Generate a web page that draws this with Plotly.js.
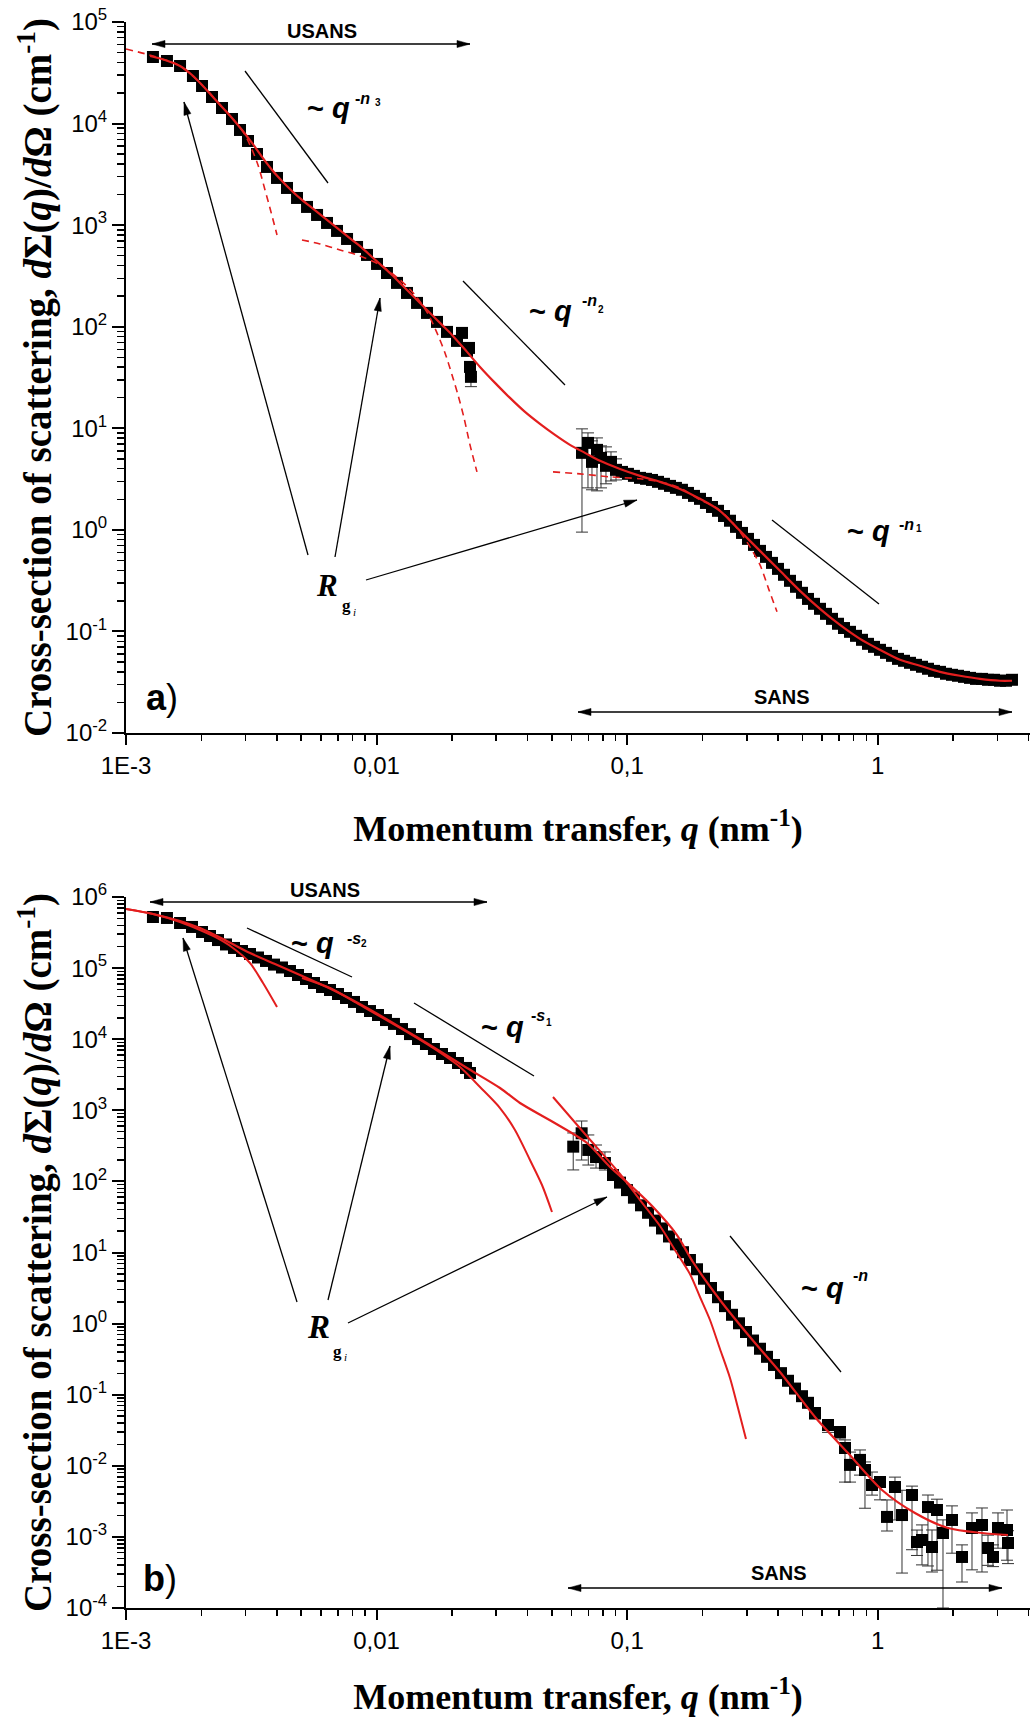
<!DOCTYPE html>
<html><head><meta charset="utf-8">
<script src="https://cdn.plot.ly/plotly-3.0.1.min.js"></script>
<style>html,body{margin:0;padding:0;background:#fff}</style>
</head><body>
<div id="chart" style="width:1030px;height:1719px"></div>
<script>
// ---------------- Panel a data ----------------
const qA_us = [0.001281,0.001457,0.001643,0.001850,0.002011,0.002204,0.002416,0.002649,0.002850,0.003068,0.003332,0.003653,0.004005,0.004390,0.004814,0.005277,0.005786,0.006342,0.006952,0.007622,0.008356,0.009156,0.01004,0.01100,0.01206,0.01322,0.01450,0.01589,0.01742,0.01910,0.02093,0.02295,0.02192,0.02337,0.02359];
const IA_us = [45250,41320,36880,29410,23450,18270,14240,11100,8650,6740,5020,3740,2915,2323,1852,1511,1260,1051,877,731,610,509,415,338,270,215,171.5,136.7,111.5,88.9,72.5,57.8,86.9,61.8,40.2];
const qA_usEnd = [0.02380];
const IA_usEnd = [32.1];
const IA_usEndMinus = [6.4];

const qA_se = [0.06600,0.06975,0.07235,0.07576,0.07861,0.08229,0.08617,0.09023];
const IA_se = [5.73,7.18,4.67,6.13,5.11,4.27,4.67,3.90];
const IA_sePlus = [4.14,1.83,2.85,1.91,1.6,2.29,1.19,1.1];
const IA_seMinus = [4.78,4.59,2.19,3.71,2.52,1.43,1.64,0.8];

const qA_sa = [0.09535,0.1007,0.1064,0.1125,0.1189,0.1256,0.1327,0.1402,0.1482,0.1565,0.1654,0.1748,0.1847,0.1952,0.2062,0.2180,0.2303,0.2434,0.2572,0.2718,0.2872,0.3034,0.3206,0.3388,0.3580,0.3783,0.3998,0.4224,0.4464,0.4717,0.4984,0.5267,0.5565,0.5881,0.6214,0.6567,0.6939,0.7332,0.7748,0.8187,0.8651,0.9141,0.9656,1.0205,1.0783,1.1394,1.2040,1.2721,1.3443,1.4204,1.5010,1.5860,1.6759,1.7708,1.8712,1.9775,2.0893,2.2080,2.3330,2.4653,2.6049,2.7526,2.9087,3.0735,3.2480,3.4318];
const IA_sa = [3.72,3.56,3.40,3.25,3.18,3.10,2.97,2.84,2.71,2.59,2.48,2.31,2.16,2.02,1.84,1.68,1.54,1.37,1.23,1.07,0.933,0.815,0.711,0.621,0.542,0.473,0.413,0.361,0.315,0.275,0.240,0.209,0.187,0.167,0.149,0.133,0.119,0.108,0.0991,0.0905,0.0827,0.0755,0.0705,0.0659,0.0615,0.0575,0.0537,0.0514,0.0491,0.0469,0.0449,0.0429,0.0409,0.0400,0.0383,0.0374,0.0366,0.0357,0.0349,0.0341,0.0341,0.0334,0.0334,0.0327,0.0327,0.0334];

const qA_fit = [0.001247,0.001430,0.001643,0.001834,0.002011,0.002204,0.002416,0.002649,0.002903,0.003183,0.003489,0.003825,0.004193,0.004596,0.005039,0.005525,0.006055,0.006637,0.007276,0.007977,0.008744,0.009585,0.01051,0.01152,0.01263,0.01385,0.01518,0.01664,0.01824,0.02000,0.02295,0.02586,0.02969,0.03406,0.03910,0.04487,0.05151,0.05910,0.06785,0.07788,0.09361,0.1125,0.1352,0.1624,0.1952,0.2346,0.2819,0.3388,0.4071,0.4893,0.5881,0.7066,0.8492,1.0205,1.2264,1.4736,1.7708,2.1281,2.5575,3.0735,3.4318];
const IA_fit = [46290,42270,36880,30080,23990,18690,14570,11350,8650,6444,4692,3494,2723,2171,1770,1477,1232,1027,857,715,597,486,397,323,258,205.6,163.9,130.6,104.2,83.1,56.5,40.2,28.0,19.92,14.50,11.05,8.61,6.87,5.73,4.78,3.98,3.40,2.97,2.53,2.02,1.54,0.978,0.621,0.395,0.251,0.167,0.116,0.0846,0.0659,0.0525,0.0459,0.0400,0.0366,0.0341,0.0327,0.0327];

const qA_g1 = [0.001,0.001281,0.001643,0.002011,0.002416,0.002903,0.003125,0.003363,0.003587,0.003790,0.004005];
const IA_g1 = [54240,46290,36880,23990,14570,8650,6157,3913,2221,1349,801];
const qA_g2 = [0.005039,0.005942,0.007145,0.008588,0.01032,0.01240,0.01423,0.01604,0.01742,0.01875,0.02000,0.02113,0.02233,0.02359,0.02515];
const IA_g2 = [715,653,570,497.6,405.9,288.8,205.6,133.7,86.9,55.2,33.5,21.3,12.66,6.87,3.72];
const qA_g3 = [0.05057,0.06481,0.08539,0.1125,0.1352,0.1624,0.1952,0.2240,0.2525,0.2819,0.3090,0.3388,0.3680,0.3961];
const IA_g3 = [3.72,3.56,3.325,3.18,2.97,2.59,1.974,1.68,1.313,0.956,0.680,0.452,0.2566,0.156];

// ---------------- Panel b data ----------------
const qB_us = [0.001281,0.001457,0.001643,0.001834,0.002011,0.002164,0.002329,0.002506,0.002698,0.002903,0.003125,0.003363,0.003620,0.003896,0.004193,0.004512,0.004858,0.005228,0.005626,0.006055,0.006516,0.007015,0.007550,0.008125,0.008744,0.009412,0.01013,0.01090,0.01173,0.01263,0.01359,0.01463,0.01574,0.01694,0.01824,0.01963,0.02113,0.02274,0.02359];
const IB_us = [5.23e5,5.07e5,4.31e5,3.79e5,3.22e5,2.83e5,2.48e5,2.15e5,1.92e5,1.74e5,1.58e5,1.41e5,1.26e5,1.12e5,1.02e5,9.10e4,8.00e4,7.03e4,6.17e4,5.42e4,4.92e4,4.32e4,3.80e4,3.34e4,2.84e4,2.49e4,2.19e4,1.86e4,1.64e4,1.39e4,1.18e4,1.006e4,8560,7280,6190,5440,4630,3940,3350];

const qB_se = [0.0609,0.0658,0.06995,0.0751,0.0815];
const IB_se = [308,475,277,220,181.5];
const IB_sePlus = [172,232,173,105,78];
const IB_seMinus = [163,275,107,66,37];

const qB_sa = [0.08776,0.09361,0.09982,0.1064,0.1135,0.1211,0.1291,0.1377,0.1468,0.1565,0.1670,0.1780,0.1899,0.2025,0.2160,0.2303,0.2456,0.2619,0.2793,0.2979,0.3177,0.3388,0.3613,0.3853,0.4109,0.4383,0.4674,0.4984,0.5267];
const IB_sa = [123.0,96.2,75.4,59.0,46.1,36.2,28.1,21.8,16.8,13.0,10.1,7.85,5.81,4.28,3.17,2.35,1.76,1.33,1.01,0.762,0.578,0.443,0.341,0.262,0.201,0.157,0.122,0.0953,0.0769];

const qB_tail = [0.5617,0.6329,0.7066,0.7399,0.7748,0.8492,0.8890,0.9482,1.0205,1.0882,1.1711,1.2491,1.3694,1.4336,1.5010,1.5860,1.6455,1.7226,1.8205,1.9775,2.1677,2.3763,2.6049,2.7526,2.8821,3.0175,3.2780,3.3083];
const IB_tail = [0.0553,0.0375,0.0299,0.0178,0.0103,0.0121,0.00873,0.00537,0.00592,0.00191,0.00503,0.00203,0.00388,0.000848,0.000904,0.00263,0.000721,0.00239,0.001135,0.00173,0.000522,0.001334,0.001471,0.000698,0.000522,0.001334,0.00125,0.000821];
const IB_tailPlus = [0.004,0.003,0.003,0.0053,0.0053,0.0046,0.0026,0.0028,0.0011,0.0014,0.0019,0.0025,0.0013,0.0004,0.00057,0.00125,0.00053,0.0010,0.0006,0.0010,0.00025,0.00084,0.00108,0.00036,0.00025,0.00084,0.00114,0.0004];
const IB_tailMinus = [0.01,0.008,0.006,0.0119,0.0044,0.0047,0.0062,0.0015,0.0026,0.0007,0.0033,0.00172,0.00322,0.0003,0.0005,0.00224,0.0004,0.00205,0.001035,0.00114,0.00029,0.00099,0.00115,0.0003,0.00014,0.00064,0.00078,0.0004];

const qB_fit = [0.001,0.001281,0.001643,0.001974,0.002484,0.003125,0.003932,0.004947,0.006699,0.009156,0.01240,0.01680,0.02295,0.03108,0.03734,0.05057,0.06911,0.08539,0.1026,0.1268,0.1580,0.1830,0.2346,0.3090,0.4071,0.5617,0.7607,1.0394,1.4073,1.9055,2.6049,3.3083];
const IB_fit = [6.78e5,5.77e5,4.60e5,3.66e5,2.48e5,1.63e5,1.14e5,8.00e4,4.92e4,2.75e4,1.48e4,7770,3940,2058,1267,684.6,346.8,159.4,89.0,43.6,17.6,7.35,2.15,0.648,0.2086,0.0486,0.01514,0.00457,0.00217,0.001334,0.001135,0.001063];

const qB_g1 = [0.001,0.001281,0.001643,0.001974,0.002266,0.002673,0.003125,0.003522,0.004005];
const IB_g1 = [6.78e5,5.77e5,4.45e5,3.43e5,2.74e5,1.92e5,1.18e5,6.17e4,2.84e4];
const qB_g2 = [0.005039,0.006516,0.008588,0.01240,0.01680,0.02152,0.02586,0.03108,0.03566,0.04093,0.04571,0.05011];
const IB_g2 = [7.26e4,5.25e4,3.03e4,1.44e4,7520,4064,2127,1077,528,200,89.0,37.1];
const qB_g3 = [0.05057,0.06785,0.09361,0.1125,0.1352,0.1551,0.1780,0.1952,0.2140,0.2346,0.2572,0.2768,0.2979];
const IB_g3 = [1539,464,127.1,54.7,23.6,10.85,4.98,2.366,1.124,0.439,0.1717,0.0650,0.0238];

// ---------------- Tick labels ----------------
const xTickVals = [0.001,0.01,0.1,1];
const xTickText = ['1E-3','0,01','0,1','1'];
const yTickValsA = [1e-2,1e-1,1,10,100,1e3,1e4,1e5];
const yTickTextA = ['10<sup>-2</sup>','10<sup>-1</sup>','10<sup>0</sup>','10<sup>1</sup>','10<sup>2</sup>','10<sup>3</sup>','10<sup>4</sup>','10<sup>5</sup>'];
const yTickValsB = [1e-4,1e-3,1e-2,1e-1,1,10,100,1e3,1e4,1e5,1e6];
const yTickTextB = ['10<sup>-4</sup>','10<sup>-3</sup>','10<sup>-2</sup>','10<sup>-1</sup>','10<sup>0</sup>','10<sup>1</sup>','10<sup>2</sup>','10<sup>3</sup>','10<sup>4</sup>','10<sup>5</sup>','10<sup>6</sup>'];

// ---------------- Layout helpers ----------------
const W = 1030, H = 1719;
const PX = v => v / W, PY = v => 1 - v / H;
const RED = '#e31e1e';
const SANSF = 'Liberation Sans, Arial, sans-serif';
const SERIF = 'Liberation Serif, Times New Roman, serif';

function minorVals(lo, hi) {
  const v = [];
  for (let e = lo; e <= hi; e++) for (let d = 2; d <= 9; d++) v.push(d * Math.pow(10, e));
  return v;
}

const tickFont = {family: SANSF, size: 24, color: '#000'};
const xTitle = '<b>Momentum transfer, <i>q</i> (nm<sup>-1</sup>)</b>';
const yTitle = '<b>Cross-section of scattering, <i>d</i>Σ(<i>q</i>)/<i>d</i>Ω (cm<sup>-1</sup>)</b>';

function xAxis(anchor, standoff) {
  return {
    type: 'log', domain: [PX(126), 1], range: [-3, 0.6074], anchor: anchor,
    showline: true, linecolor: '#000', linewidth: 2, mirror: false,
    ticks: 'outside', ticklen: 10, tickwidth: 2, tickcolor: '#000',
    tickmode: 'array', tickvals: xTickVals, ticktext: xTickText, tickfont: tickFont,
    minor: {tickmode: 'array', tickvals: minorVals(-3, 0), ticks: 'outside', ticklen: 6, tickwidth: 1.5, tickcolor: '#000', showgrid: false},
    showgrid: false, zeroline: false, automargin: false,
    title: {text: xTitle, font: {family: SERIF, size: 36, color: '#000'}, standoff: standoff}
  };
}
function yAxis(anchor, dom, rng, vals, text, lo, hi) {
  return {
    type: 'log', domain: dom, range: rng, anchor: anchor,
    showline: true, linecolor: '#000', linewidth: 2, mirror: false,
    ticks: 'outside', ticklen: 12, tickwidth: 2, tickcolor: '#000',
    tickmode: 'array', tickvals: vals, ticktext: text, tickfont: tickFont,
    minor: {tickmode: 'array', tickvals: minorVals(lo, hi), ticks: 'outside', ticklen: 7, tickwidth: 1.5, tickcolor: '#000', showgrid: false},
    showgrid: false, zeroline: false, automargin: false,
    title: {text: yTitle, font: {family: SERIF, size: 39, color: '#000'}, standoff: 2}
  };
}

function sq(x, y, xa, ya, plus, minus) {
  const t = {x: x, y: y, xaxis: xa, yaxis: ya, type: 'scatter', mode: 'markers',
    marker: {symbol: 'square', size: 12, color: '#000', line: {width: 0}}, hoverinfo: 'skip'};
  if (minus) {
    t.error_y = {type: 'data', symmetric: false, array: plus, arrayminus: minus,
      color: '#333', thickness: 1, width: 6};
  }
  return t;
}
function ln(x, y, xa, ya, width, dash) {
  return {x: x, y: y, xaxis: xa, yaxis: ya, type: 'scatter', mode: 'lines',
    line: {color: RED, width: width, dash: dash || 'solid', shape: 'spline', smoothing: 0.8}, hoverinfo: 'skip'};
}

const data = [
  sq(qA_us, IA_us, 'x', 'y'),
  sq(qA_usEnd, IA_usEnd, 'x', 'y', [0], IA_usEndMinus),
  sq(qA_se, IA_se, 'x', 'y', IA_sePlus, IA_seMinus),
  sq(qA_sa, IA_sa, 'x', 'y'),
  ln(qA_fit, IA_fit, 'x', 'y', 2.2),
  ln(qA_g1, IA_g1, 'x', 'y', 1.6, '7px,5px'),
  ln(qA_g2, IA_g2, 'x', 'y', 1.6, '7px,5px'),
  ln(qA_g3, IA_g3, 'x', 'y', 1.6, '7px,5px'),

  sq(qB_us, IB_us, 'x2', 'y2'),
  sq(qB_se, IB_se, 'x2', 'y2', IB_sePlus, IB_seMinus),
  sq(qB_sa, IB_sa, 'x2', 'y2'),
  sq(qB_tail, IB_tail, 'x2', 'y2', IB_tailPlus, IB_tailMinus),
  ln(qB_fit, IB_fit, 'x2', 'y2', 2.2),
  ln(qB_g1, IB_g1, 'x2', 'y2', 2),
  ln(qB_g2, IB_g2, 'x2', 'y2', 2),
  ln(qB_g3, IB_g3, 'x2', 'y2', 2)
];

function txt(x, y, text, size, family) {
  return {xref: 'paper', yref: 'paper', x: PX(x), y: PY(y), text: text, showarrow: false,
    xanchor: 'center', yanchor: 'middle', font: {family: family || SANSF, size: size, color: '#000'}};
}
function seg(x0, y0, x1, y1, w) {
  return {type: 'line', xref: 'paper', yref: 'paper', x0: PX(x0), y0: PY(y0), x1: PX(x1), y1: PY(y1),
    line: {color: '#000', width: w || 1.3}};
}
// arrow drawn as a thin line plus slim filled triangular head(s)
function head(hx, hy, tx, ty) {
  const L = 13, hw = 3.6;
  const dx = hx - tx, dy = hy - ty, d = Math.hypot(dx, dy);
  const ux = dx / d, uy = dy / d, nx = -uy, ny = ux;
  const bx = hx - ux * L, by = hy - uy * L;
  const p = (x, y) => PX(x) + ',' + PY(y);
  return {type: 'path', xref: 'paper', yref: 'paper',
    path: 'M' + p(hx, hy) + 'L' + p(bx + nx * hw, by + ny * hw) + 'L' + p(bx - nx * hw, by - ny * hw) + 'Z',
    fillcolor: '#000', line: {color: '#000', width: 0.5}};
}
function arrow(hx, hy, tx, ty, both) {
  const out = [seg(hx, hy, tx, ty, 1.3), head(hx, hy, tx, ty)];
  if (both) out.push(head(tx, ty, hx, hy));
  return out;
}

const annotations = [
  // panel a
  txt(322, 31, '<b>USANS</b>', 20),
  txt(782, 697, '<b>SANS</b>', 20),
  txt(328, 108, '<b>~ <i>q</i></b>', 29), txt(362, 98, '<b>-<i>n</i></b>', 16), txt(378, 103, '<b>3</b>', 10),
  txt(550, 311, '<b>~ <i>q</i></b>', 29), txt(589, 300, '<b>-<i>n</i></b>', 16), txt(601, 309, '<b>2</b>', 10),
  txt(868, 531, '<b>~ <i>q</i></b>', 29), txt(906, 524, '<b>-<i>n</i></b>', 16), txt(919, 529, '<b>1</b>', 10),
  txt(327, 585, '<b><i>R</i></b>', 31, SERIF), txt(346, 606, '<b>g</b>', 17, SERIF), txt(354, 612, '<i>i</i>', 11, SERIF),
  txt(162, 697, '<b>a</b>)', 36),
  // panel b
  txt(325, 890, '<b>USANS</b>', 20),
  txt(779, 1573, '<b>SANS</b>', 20),
  txt(312, 943, '<b>~ <i>q</i></b>', 29), txt(354, 938, '<b>-<i>s</i></b>', 16), txt(364, 943, '<b>2</b>', 10),
  txt(502, 1027, '<b>~ <i>q</i></b>', 29), txt(538, 1015, '<b>-<i>s</i></b>', 16), txt(549, 1022, '<b>1</b>', 10),
  txt(822, 1288, '<b>~ <i>q</i></b>', 29), txt(860, 1275, '<b>-<i>n</i></b>', 16),
  txt(318, 1327, '<b><i>R</i></b>', 33, SERIF), txt(337, 1351, '<b>g</b>', 17, SERIF), txt(345, 1357, '<i>i</i>', 11, SERIF),
  txt(160, 1578, '<b>b</b>)', 36)
];

const shapes = [].concat(
  [seg(245, 71, 328, 183), seg(463, 281, 565, 385), seg(772, 520, 879, 604),
   seg(247, 928, 352, 977), seg(414, 1003, 534, 1076), seg(730, 1236, 841, 1372)],
  arrow(470, 44, 152, 44, true), arrow(1012, 712, 578, 712, true),
  arrow(184, 102, 308, 555), arrow(380, 298, 335, 557), arrow(637, 500, 366, 580),
  arrow(487, 902, 150, 902, true), arrow(1002, 1588, 568, 1588, true),
  arrow(183, 938, 297, 1302), arrow(390, 1046, 328, 1300), arrow(607, 1197, 348, 1323)
);

const layout = {
  width: W, height: H, margin: {l: 0, r: 0, t: 0, b: 0},
  paper_bgcolor: '#fff', plot_bgcolor: '#fff', showlegend: false,
  xaxis: xAxis('y', 38),
  yaxis: yAxis('x', [PY(733), PY(22)], [-2, 5], yTickValsA, yTickTextA, -2, 4),
  xaxis2: xAxis('y2', 31),
  yaxis2: yAxis('x2', [PY(1608), PY(897)], [-4, 6], yTickValsB, yTickTextB, -4, 5),
  annotations: annotations, shapes: shapes
};

Plotly.newPlot('chart', data, layout, {displayModeBar: false, staticPlot: true});
</script>
</body></html>
